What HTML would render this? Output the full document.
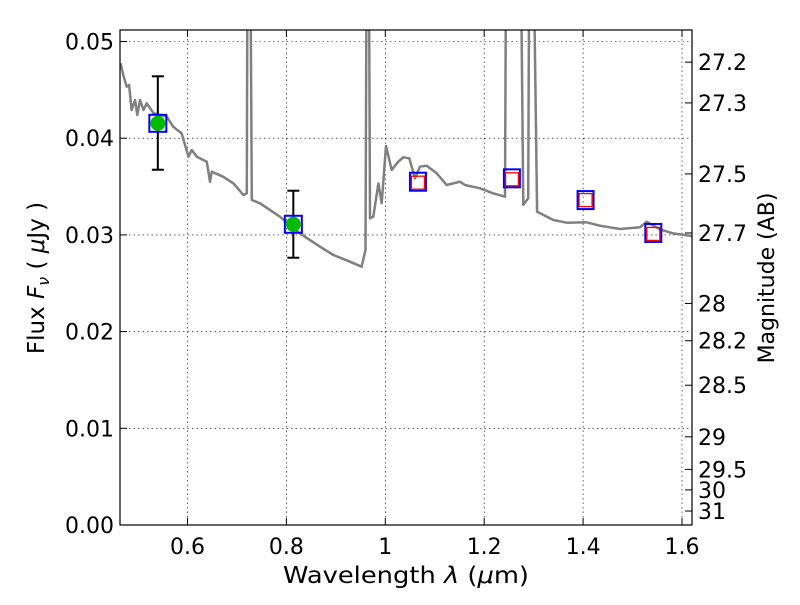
<!DOCTYPE html>
<html><head><meta charset="utf-8"><style>
body{margin:0;background:#fff;}
svg text{font-family:"DejaVu Sans","Liberation Sans",sans-serif;fill:#000;}
</style></head><body>
<svg id="chart" width="800" height="600" xmlns="http://www.w3.org/2000/svg">
<defs><clipPath id="clip"><rect x="120" y="30" width="572" height="495"/></clipPath></defs>
<g id="grid"></g>
<g id="ticks"></g>
<g clip-path="url(#clip)"><polyline id="spec" fill="none" stroke="#808080" stroke-width="2.5" stroke-linejoin="round"/></g>
<g id="marks"></g>
<rect x="120" y="30" width="572" height="495" fill="none" stroke="#000" stroke-width="1.2"/>
<text x="406" y="583" font-size="23" text-anchor="middle" textLength="246" lengthAdjust="spacingAndGlyphs">Wavelength  <tspan font-style="italic">λ</tspan> (<tspan font-style="italic">μ</tspan>m)</text>
<text transform="translate(44,278) rotate(-90)" font-size="23" text-anchor="middle">Flux  <tspan font-style="italic">F<tspan font-size="16" dy="5">ν</tspan></tspan><tspan dy="-5">  ( </tspan><tspan font-style="italic">μ</tspan>Jy )</text>
<text transform="translate(774,278) rotate(-90)" font-size="22" text-anchor="middle">Magnitude (AB)</text>
</svg>
<script>
const specLam=[0.465,0.470,0.477,0.482,0.487,0.494,0.4985,0.504,0.511,0.5175,0.531,0.558,0.571,0.588,0.602,0.6085,0.619,0.639,0.6455,0.649,0.672,0.693,0.713,0.720,0.722,0.726,0.730,0.7466,0.787,0.8275,0.868,0.895,0.9286,0.952,0.960,0.963,0.966,0.969,0.9757,0.986,0.9927,1.0014,1.013,1.026,1.0364,1.0485,1.060,1.070,1.0837,1.104,1.124,1.151,1.161,1.1915,1.218,1.242,1.245,1.272,1.279,1.289,1.292,1.297,1.307,1.340,1.367,1.407,1.434,1.4746,1.515,1.5286,1.555,1.582,1.6196];
const specFlux=[0.04775,0.04654,0.04533,0.0455,0.04292,0.04395,0.0424,0.04395,0.04292,0.04361,0.0426,0.04222,0.04119,0.0405,0.03809,0.03878,0.03809,0.03757,0.0355,0.03654,0.03602,0.03533,0.03413,0.0343,0.07,0.07,0.03361,0.03327,0.03188,0.03016,0.02878,0.02792,0.02723,0.02671,0.02844,0.07,0.07,0.03172,0.03188,0.03533,0.03327,0.03919,0.03671,0.03757,0.03802,0.03792,0.03585,0.03705,0.03716,0.03637,0.03516,0.0355,0.03516,0.03482,0.0343,0.03395,0.07,0.07,0.0331,0.03378,0.07,0.07,0.0324,0.03154,0.03126,0.0313,0.03095,0.03061,0.03079,0.03137,0.03058,0.03016,0.02989];
const obsLam=[0.540,0.814];
const obsFlux=[0.04154,0.0311];
const obsLo=[0.03674,0.02764];
const obsHi=[0.0464,0.03457];
const modLam=[1.066,1.256,1.405,1.542];
const modFluxBlue=[0.0355,0.03585,0.0336,0.0302];
const modFluxRed=[0.0354,0.03575,0.0336,0.0301];
const xTicks=[0.6,0.8,1.0,1.2,1.4,1.6];
const xTickLabels=["0.6","0.8","1","1.2","1.4","1.6"];
const yTicks=[0,0.01,0.02,0.03,0.04,0.05];
const yTickLabels=["0.00","0.01","0.02","0.03","0.04","0.05"];
const magTicks=[27.2,27.3,27.5,27.7,28,28.2,28.5,29,29.5,30,31];

const X=l=>385.3+(l-1)*494.5;
const Y=f=>525-f*9670;
const NS="http://www.w3.org/2000/svg";
function mk(tag,attrs,parent){const e=document.createElementNS(NS,tag);for(const k in attrs)e.setAttribute(k,attrs[k]);parent.appendChild(e);return e;}
const grid=document.getElementById('grid'),ticks=document.getElementById('ticks'),marks=document.getElementById('marks');
xTicks.forEach((v,i)=>{const x=X(v);
 const g=mk('line',{x1:x,x2:x,y1:30,y2:525,stroke:'#000','stroke-width':0.6,'stroke-dasharray':'1.5,3'},grid);
 
 
 mk('line',{x1:x,x2:x,y1:525,y2:518,stroke:'#000'},ticks);
 mk('line',{x1:x,x2:x,y1:30,y2:37,stroke:'#000'},ticks);
 const t=mk('text',{x:x,y:554,'font-size':22,'text-anchor':'middle'},ticks);t.textContent=xTickLabels[i];
 
 
});
yTicks.forEach((v,i)=>{const y=Y(v);
 if(v>0){const g=mk('line',{x1:120,x2:692,y1:y,y2:y,stroke:'#000','stroke-width':0.6,'stroke-dasharray':'1.5,3'},grid);
 
 }
 mk('line',{x1:120,x2:127,y1:y,y2:y,stroke:'#000'},ticks);
 const t=mk('text',{x:114,y:y+8,'font-size':22,'text-anchor':'end'},ticks);t.textContent=yTickLabels[i];
 
 
});
magTicks.forEach(m=>{const f=Math.pow(10,(23.9-m)/2.5);const y=Y(f);
 mk('line',{x1:685,x2:692,y1:y,y2:y,stroke:'#000'},ticks);
 const t=mk('text',{x:698,y:y+8,'font-size':22},ticks);t.textContent=String(m);
 
 
});
document.getElementById('spec').setAttribute('points',specLam.map((l,i)=>X(l).toFixed(1)+','+Y(specFlux[i]).toFixed(1)).join(' '));
obsLam.forEach((l,i)=>{const x=X(l);
 const g=mk('g',{},marks);
 
 
 mk('line',{x1:x,x2:x,y1:Y(obsHi[i]),y2:Y(obsLo[i]),stroke:'#000','stroke-width':2},g);
 mk('line',{x1:x-6,x2:x+6,y1:Y(obsHi[i]),y2:Y(obsHi[i]),stroke:'#000','stroke-width':2},g);
 mk('line',{x1:x-6,x2:x+6,y1:Y(obsLo[i]),y2:Y(obsLo[i]),stroke:'#000','stroke-width':2},g);
 mk('rect',{x:x-8.5,y:Y(obsFlux[i])-8.5,width:17,height:17,fill:'none',stroke:'#0000ff','stroke-width':2},g);
 mk('circle',{cx:x,cy:Y(obsFlux[i]),r:7.5,fill:'#00bb00'},g);
});
modLam.forEach((l,i)=>{const x=X(l);
 const g=mk('g',{},marks);
 
 
 mk('rect',{x:x-8,y:Y(modFluxBlue[i])-9,width:16,height:18,fill:'none',stroke:'#0000ff','stroke-width':2},g);
 mk('rect',{x:x-6.5,y:Y(modFluxRed[i])-6.5,width:13,height:13,fill:'none',stroke:'#ff0000','stroke-width':1.3},g);
});
</script>
</body></html>
